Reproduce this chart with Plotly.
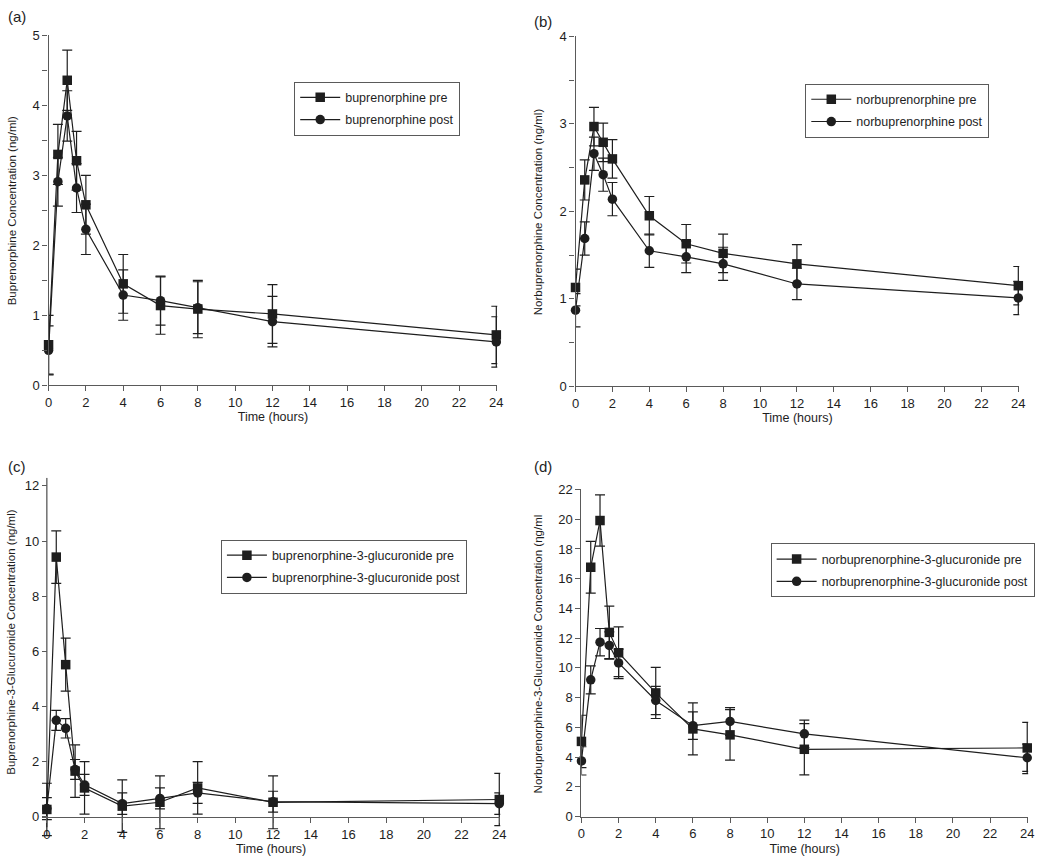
import plotly.graph_objects as go

# sampling times (hours)
time_h = [0, 0.5, 1, 1.5, 2, 4, 6, 8, 12, 24]

# (a) buprenorphine
bup_pre = [0.58, 3.30, 4.36, 3.21, 2.58, 1.45, 1.14, 1.09, 1.02, 0.72]
bup_pre_err = [0.42, 0.43, 0.43, 0.42, 0.42, 0.42, 0.41, 0.41, 0.42, 0.41]
bup_post = [0.50, 2.91, 3.85, 2.82, 2.23, 1.29, 1.21, 1.11, 0.91, 0.62]
bup_post_err = [0.35, 0.35, 0.36, 0.35, 0.36, 0.36, 0.35, 0.37, 0.36, 0.36]

# (b) norbuprenorphine
nor_pre = [1.13, 2.36, 2.97, 2.79, 2.60, 1.95, 1.63, 1.52, 1.40, 1.15]
nor_pre_err = [0.21, 0.23, 0.22, 0.22, 0.22, 0.22, 0.22, 0.22, 0.22, 0.22]
nor_post = [0.87, 1.69, 2.66, 2.42, 2.14, 1.55, 1.48, 1.40, 1.17, 1.01]
nor_post_err = [0.19, 0.19, 0.19, 0.19, 0.19, 0.19, 0.18, 0.19, 0.18, 0.19]

# (c) buprenorphine-3-glucuronide
b3g_pre = [0.27, 9.42, 5.52, 1.66, 1.05, 0.39, 0.53, 1.05, 0.53, 0.63]
b3g_pre_err = [0.95, 0.95, 0.96, 0.95, 0.95, 0.95, 0.96, 0.95, 0.96, 0.95]
b3g_post = [0.30, 3.50, 3.21, 1.72, 1.16, 0.48, 0.67, 0.87, 0.55, 0.48]
b3g_post_err = [0.40, 0.36, 0.35, 0.36, 0.38, 0.39, 0.38, 0.38, 0.38, 0.39]

# (d) norbuprenorphine-3-glucuronide
n3g_pre = [5.06, 16.77, 19.91, 12.39, 11.02, 8.32, 5.90, 5.50, 4.53, 4.62]
n3g_pre_err = [1.76, 1.74, 1.72, 1.76, 1.74, 1.72, 1.75, 1.70, 1.72, 1.72]
n3g_post = [3.75, 9.20, 11.73, 11.51, 10.34, 7.81, 6.12, 6.40, 5.57, 3.96]
n3g_post_err = [0.95, 0.94, 0.92, 0.92, 0.92, 0.95, 0.92, 0.93, 0.92, 0.92]

panels = [
    ("buprenorphine", bup_pre, bup_pre_err, bup_post, bup_post_err),
    ("norbuprenorphine", nor_pre, nor_pre_err, nor_post, nor_post_err),
    ("buprenorphine-3-glucuronide", b3g_pre, b3g_pre_err, b3g_post, b3g_post_err),
    ("norbuprenorphine-3-glucuronide", n3g_pre, n3g_pre_err, n3g_post, n3g_post_err),
]

ytitles = [
    "Buprenorphine Concentration (ng/ml)",
    "Norbuprenorphine Concentration (ng/ml)",
    "Buprenorphine-3-Glucuronide Concentration (ng/ml)",
    "Norbuprenorphine-3-Glucuronide Concentration (\u03b7g/ml",
]

W, H = 1050, 862
FONT = "Liberation Sans, Arial, Helvetica, sans-serif"
INK = "#1e1e1e"
AX = "#5a5a5a"

def px(x):
    return x / W

def py(y):
    return 1 - y / H

fig = go.Figure()

for k, (name, pre, pre_e, post, post_e) in enumerate(panels):
    sfx = "" if k == 0 else str(k + 1)
    leg = "legend" + sfx
    for lab, vals, errs, sym in [("pre", pre, pre_e, "square"),
                                 ("post", post, post_e, "circle")]:
        fig.add_trace(go.Scatter(
            x=time_h, y=vals, name=name + " " + lab,
            mode="lines+markers",
            line=dict(color=INK, width=1.2),
            marker=dict(symbol=sym, size=9.5, color=INK),
            error_y=dict(type="data", array=errs, visible=True,
                         color=INK, thickness=1.2, width=5),
            xaxis="x" + sfx, yaxis="y" + sfx,
            legend=leg, legendgroup=name + lab,
            cliponaxis=False,
        ))

def xax(dom, anchor, rng=(0, 24.05), position=None):
    d = dict(domain=dom, anchor=anchor, range=list(rng), tick0=0, dtick=2,
             showline=True, linecolor=AX, linewidth=1.3, ticks="outside",
             ticklen=5, tickcolor=AX, showgrid=False, zeroline=False,
             tickfont=dict(size=13, color=INK, family=FONT),
             title=dict(text="Time (hours)", font=dict(size=12.5, color=INK, family=FONT),
                        standoff=3))
    if position is not None:
        d["position"] = position
    return d

def yax(dom, anchor, rng, dtick, minor, position=None, line=True):
    d = dict(domain=dom, anchor=anchor, range=rng, tick0=0, dtick=dtick,
             showline=line, linecolor=AX, linewidth=1.3, ticks="outside",
             ticklen=5, tickcolor=AX, showgrid=False, zeroline=False,
             tickfont=dict(size=13, color=INK, family=FONT))
    if minor:
        d["minor"] = dict(dtick=minor, ticks="outside", ticklen=5, tickcolor=AX)
    if position is not None:
        d["position"] = position
    return d

leg_style = dict(bgcolor="white", bordercolor=AX, borderwidth=1,
                 font=dict(size=12.5, color=INK, family=FONT),
                 xanchor="left", yanchor="top", traceorder="grouped",
                 tracegroupgap=3, itemwidth=40)

fig.update_layout(
    width=W, height=H,
    margin=dict(l=0, r=0, t=0, b=0),
    paper_bgcolor="white", plot_bgcolor="white",
    font=dict(family=FONT, color=INK),
    xaxis=xax([px(45), px(498)], "y"),
    yaxis=yax([py(385), py(29)], "x", [0, 5], 1, 0.5),
    xaxis2=xax([px(577), px(1025)], "y2"),
    yaxis2=yax([py(386), py(30)], "x2", [0, 4], 1, 0.5),
    # panel (c): axes cross at zero; error bars hang below the zero line
    xaxis3=xax([px(38.3), px(501)], "free", rng=(-0.26, 24.05), position=py(824.3)),
    yaxis3=yax([py(845), py(479)], "free", [-0.74, 12.3], 2, None,
               position=px(43.3), line=False),
    xaxis4=xax([px(583), px(1034)], "y4"),
    yaxis4=yax([py(824), py(491)], "x4", [0, 22], 2, None),
    legend=dict(x=px(293), y=py(76), **leg_style),
    legend2=dict(x=px(809), y=py(78), **leg_style),
    legend3=dict(x=px(219), y=py(542), **leg_style),
    legend4=dict(x=px(774), y=py(546), **leg_style),
)

# y axis line of panel (c), stopping a little below zero
fig.add_shape(type="line", xref="x3", yref="y3", x0=0, x1=0, y0=-0.38, y1=12.3,
              line=dict(color=AX, width=1.3), layer="below")

# y-axis titles (rotated), placed at the left of each panel
for txt, x0, y0 in zip(ytitles, [8, 540, 7, 539], [207, 208, 646, 658]):
    fig.add_annotation(text=txt, x=px(x0), y=py(y0), xref="paper", yref="paper",
                       xanchor="center", yanchor="middle", textangle=-90,
                       showarrow=False, font=dict(size=11.5, color=INK, family=FONT))

for lab, x0, y0 in [("(a)", 2, 10), ("(b)", 533, 15), ("(c)", 2, 468), ("(d)", 533, 468)]:
    fig.add_annotation(text=lab, x=px(x0), y=py(y0), xref="paper", yref="paper",
                       xanchor="left", yanchor="middle", showarrow=False,
                       font=dict(size=15, color=INK, family=FONT))

fig.write_html("out.html", config={"displayModeBar": False},
               post_script="document.body.style.margin='0';")
